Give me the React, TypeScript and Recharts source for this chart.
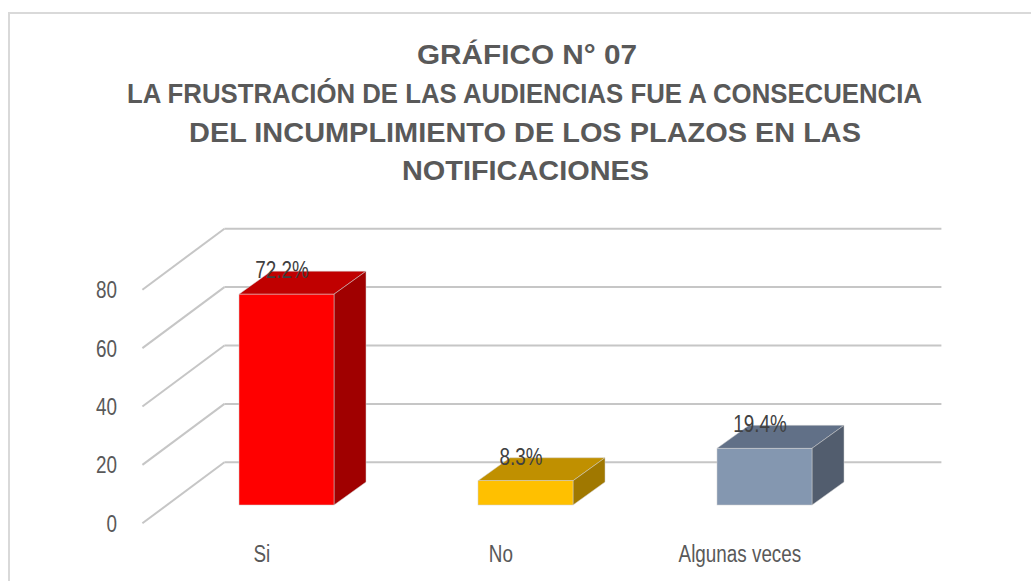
import React from 'react';
import { BarChart, Bar, XAxis, YAxis, CartesianGrid, LabelList } from 'recharts';

const categories = ['Si', 'No', 'Algunas veces'];
const percentages = [72.2, 8.3, 19.4];
const yTicks = [0, 20, 40, 60, 80];
const titleLines = [
  'GRÁFICO N° 07',
  'LA FRUSTRACIÓN DE LAS AUDIENCIAS FUE A CONSECUENCIA',
  'DEL INCUMPLIMIENTO DE LOS PLAZOS EN LAS',
  'NOTIFICACIONES',
];

const titleBaselines = [64, 103, 142, 180];
const titleCenters = [527, 524.5, 525, 525.5];
const titleWidths = [220, 795, 672, 247];

const frontColors = ['#FF0000', '#FFC000', '#8497B0'];
const topColors = ['#C00000', '#C09000', '#617087'];
const sideColors = ['#A00000', '#A07800', '#525D6E'];

const data = categories.map((name, i) => ({ name, value: percentages[i], idx: i }));

// 3D projection offsets (relative to the bars' front plane)
const FRONT_DX = -24.6;
const FRONT_DY = 18.3;
const BACK_DX = 57.4;
const BACK_DY = -42.7;
const BAR_DX = 32;
const BAR_DY = -23;

const AXIS_FONT = "'Liberation Sans', Arial, sans-serif";
const NARROW = 0.82;
const GRID = '#c6c6c6';

const Bar3D = (props: any) => {
  const { x, y, width, height } = props;
  const i = props.payload?.idx ?? props.index ?? 0;
  const edge = '#d0d0d0';
  return (
    <g>
      <polygon
        points={`${x},${y} ${x + BAR_DX},${y + BAR_DY} ${x + width + BAR_DX},${y + BAR_DY} ${x + width},${y}`}
        fill={topColors[i]}
        stroke={edge}
        strokeWidth={0.5}
      />
      <polygon
        points={`${x + width},${y} ${x + width + BAR_DX},${y + BAR_DY} ${x + width + BAR_DX},${y + height + BAR_DY} ${x + width},${y + height}`}
        fill={sideColors[i]}
        stroke={edge}
        strokeWidth={0.5}
      />
      <rect x={x} y={y} width={width} height={height} fill={frontColors[i]} stroke={edge} strokeWidth={0.5} />
    </g>
  );
};

const gridLine = (p: any) => {
  const { x1, y1, x2 } = p;
  return (
    <g key={`grid-${y1}`}>
      <line
        x1={x1 + FRONT_DX}
        y1={y1 + FRONT_DY}
        x2={x1 + BACK_DX}
        y2={y1 + BACK_DY}
        stroke={GRID}
        strokeWidth={2}
      />
      <line
        x1={x1 + BACK_DX}
        y1={y1 + BACK_DY}
        x2={x2 + BACK_DX}
        y2={y1 + BACK_DY}
        stroke={GRID}
        strokeWidth={2}
      />
    </g>
  );
};

const NarrowText = ({ x, y, anchor, fill, children }: any) => (
  <text
    transform={`translate(${x},${y}) scale(${NARROW},1)`}
    x={0}
    y={0}
    textAnchor={anchor}
    fill={fill}
    fontSize={23}
    fontFamily={AXIS_FONT}
  >
    {children}
  </text>
);

const YTick = (props: any) => {
  const { x, y, payload } = props;
  return (
    <NarrowText x={x + FRONT_DX - 25.4} y={y + FRONT_DY + 8.5} anchor="end" fill="#595959">
      {payload.value}
    </NarrowText>
  );
};

const XTick = (props: any) => {
  const { x, y, payload } = props;
  return (
    <NarrowText x={x + FRONT_DX} y={y + 57} anchor="middle" fill="#595959">
      {payload.value}
    </NarrowText>
  );
};

const ValueLabel = (props: any) => {
  const { x, y, width, value } = props;
  return (
    <NarrowText x={x + width / 2 - 4.5} y={y - 16} anchor="middle" fill="#404040">
      {`${Number(value).toFixed(1)}%`}
    </NarrowText>
  );
};

export default function App() {
  return (
    <div style={{ position: 'absolute', left: 0, top: 0, width: 1031, height: 581, overflow: 'hidden', background: '#fff' }}>
      <div
        style={{
          position: 'absolute',
          left: 8,
          top: 12,
          width: 1100,
          height: 700,
          borderTop: '2px solid #d9d9d9',
          borderLeft: '2px solid #d9d9d9',
        }}
      />
      <svg width={1031} height={200} style={{ position: 'absolute', left: 0, top: 0 }}>
        {titleLines.map((t, i) => (
          <text
            key={t}
            x={titleCenters[i]}
            y={titleBaselines[i]}
            textAnchor="middle"
            textLength={titleWidths[i]}
            lengthAdjust="spacingAndGlyphs"
            fontFamily="'Liberation Sans', Arial, sans-serif"
            fontWeight="bold"
            fontSize={28}
            fill="#595959"
          >
            {t}
          </text>
        ))}
      </svg>
      <div style={{ position: 'absolute', left: 0, top: 0 }}>
        <BarChart
          width={1031}
          height={581}
          data={data}
          margin={{ top: 271.4, right: 147, bottom: 36, left: 107 }}
        >
          <CartesianGrid vertical={false} horizontal={gridLine} />
          <XAxis
            dataKey="name"
            height={40}
            axisLine={false}
            tickLine={false}
            tickSize={0}
            tickMargin={0}
            tick={<XTick />}
            interval={0}
          />
          <YAxis
            width={60}
            domain={[0, 80]}
            ticks={yTicks}
            axisLine={false}
            tickLine={false}
            tickSize={0}
            tickMargin={0}
            tick={<YTick />}
          />
          <Bar dataKey="value" barSize={95} isAnimationActive={false} shape={<Bar3D />}>
            <LabelList dataKey="value" content={<ValueLabel />} />
          </Bar>
        </BarChart>
      </div>
    </div>
  );
}
